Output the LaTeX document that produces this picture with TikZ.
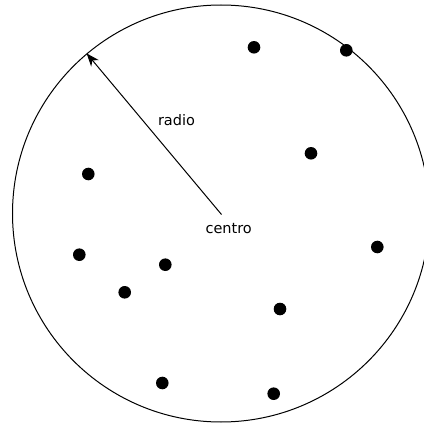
\documentclass[tikz,border=0pt]{standalone}
\usepackage{fontspec}
\setmainfont{DejaVu Sans}
\usetikzlibrary{arrows.meta}
\begin{document}
\begin{tikzpicture}[x=1pt,y=-1pt,
  dot/.style={circle,fill=black,inner sep=0pt,minimum size=12.6pt},
  lbl/.style={anchor=base,inner sep=0pt,font=\fontsize{14.5}{17}\selectfont},
  bigcirc/.style={circle,draw=black,line width=1pt,inner sep=0pt,minimum size=417pt}]
\useasboundingbox (0,0) rectangle (424,423);
\clip (0,0) rectangle (424,423);
\node[bigcirc] (circ) at (221,213.5) {};
\coordinate (center) at (221.5,214.5);
\draw[line width=1pt,-{Stealth[length=13pt,width=10pt,inset=4pt]}] (center) -- (circ.130.6);
\node[lbl] (radio) at (176.5,125) {radio};
\node[lbl] (centro) at (228.7,233.3) {centro};
\node[dot] (d1) at (254,47.3) {};
\node[dot] (d2) at (346.3,50.3) {};
\node[dot] (d3) at (311,153.3) {};
\node[dot] (d4) at (88.3,174) {};
\node[dot] (d5) at (377.3,247) {};
\node[dot] (d6) at (79.3,254.7) {};
\node[dot] (d7) at (165.3,264.7) {};
\node[dot] (d8) at (124.7,292.3) {};
\node[dot] (d9) at (280,309) {};
\node[dot] (d10) at (162.3,383) {};
\node[dot] (d11) at (273.7,393.7) {};
\end{tikzpicture}
\end{document}
